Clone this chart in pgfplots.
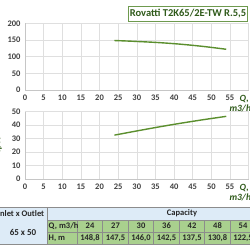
\documentclass[border=0pt]{standalone}
\usepackage{pgfplots}
\pgfplotsset{compat=1.18}
\usepackage{fontspec}
\setmainfont{Carlito}
\definecolor{curve}{HTML}{5B8F2E}
\definecolor{dgreen}{HTML}{2F5A1A}
\definecolor{boxg}{HTML}{6E9A4E}
\definecolor{hblue}{HTML}{DDEBF7}
\definecolor{cgreen}{HTML}{A9D08E}
\definecolor{cell}{HTML}{8C8C8C}
\definecolor{tick}{HTML}{404040}
\pgfplotsset{
  pumpax/.style={
    scale only axis, width=223.6pt,
    xmin=0, xmax=60,
    xtick={0,5,...,60},
    xticklabels={0,5,10,15,20,25,30,35,40,45,50,55,{}},
    axis lines=left,
    axis line style={draw=gray!45, -},
    grid=major,
    major grid style={draw=gray!25, line width=0.5pt},
    major tick length=0pt,
    ticklabel style={font=\fontsize{8.5}{9}\selectfont\bfseries, text=tick},
    /pgf/number format/assume math mode=true,
    xticklabel style={yshift=-1pt},
    yticklabel style={xshift=-1pt},
    clip=false,
  }
}
\begin{document}
\begin{tikzpicture}
\useasboundingbox (0pt,0pt) rectangle (250pt,250pt);
\clip (0pt,0pt) rectangle (250pt,250pt);
\fill[white] (0pt,0pt) rectangle (250pt,250pt);
\coordinate (TOPAX) at (25pt,160pt);
\coordinate (BOTAX) at (25pt,71pt);
% top chart
\begin{axis}[pumpax, at={(TOPAX)}, anchor=south west, height=66.5pt,
  ymin=0, ymax=200, ytick={0,50,...,200}]
\addplot[curve, line width=1.4pt, smooth] coordinates {
(24,148.8) (27,147.5) (30,146.0) (36,142.5) (42,137.5) (48,130.8) (54,122.5)};
\end{axis}
% bottom chart
\begin{axis}[pumpax, at={(BOTAX)}, anchor=south west, height=67.5pt,
  ymin=0, ymax=50, ytick={0,10,...,50}]
\addplot[curve, line width=1.4pt, smooth] coordinates {
(24,32.5) (30,35.6) (36,38.6) (42,41.4) (48,44.0) (54,46.4)};
\end{axis}
\begin{scope}[x=1pt,y=1pt]
% Q labels
\node[font=\fontsize{9.5}{10}\selectfont\bfseries\itshape, text=dgreen, anchor=west] at (236,151) {Q,};
\node[font=\fontsize{9.5}{10}\selectfont\bfseries\itshape, text=dgreen, anchor=west] at (226,141.5) {m3/h};
\node[font=\fontsize{9.5}{10}\selectfont\bfseries\itshape, text=dgreen, anchor=west] at (236,62) {Q,};
\node[font=\fontsize{9.5}{10}\selectfont\bfseries\itshape, text=dgreen, anchor=west] at (226,53) {m3/h};
% left y label (cut)
\node[rotate=90, font=\fontsize{9}{10}\selectfont\bfseries\itshape, text=dgreen] at (-2,105) {η, \%};
% title box
\node[draw=boxg, line width=0.8pt, fill=white, anchor=north west, inner sep=1.5pt,
  minimum height=15pt, font=\fontsize{10.5}{12}\selectfont\bfseries, text=dgreen]
  at (128,244) {Rovatti T2K65/2E-TW R.5,5};
% table
\begin{scope}[font=\fontsize{8.5}{9}\selectfont\bfseries, text=black!85]
\fill[hblue] (-10,30) rectangle (260,43);
\fill[hblue] (-10,6) rectangle (47,30);
\fill[cgreen] (47,6) rectangle (260,30);
\fill[white] (-10,0) rectangle (260,6);
\draw[cell, line width=0.5pt] (-10,43) -- (260,43);
\draw[cell, line width=0.5pt] (47,30) -- (260,30);
\draw[cell, line width=0.5pt] (47,18) -- (260,18);
\draw[cell, line width=0.5pt] (-10,6) -- (260,6);
\draw[cell, line width=0.5pt] (47,6) -- (47,43);
\foreach \x in {77.25,102.75,128.25,153.75,179.25,204.75,230.25} \draw[cell, line width=0.5pt] (\x,6) -- (\x,30);
\node at (21,36.5) {Inlet x Outlet};
\node at (182,36.5) {Capacity};
\node[font=\fontsize{9}{10}\selectfont\bfseries] at (23,18) {65 x 50};
\node[anchor=west, inner sep=1pt] at (47.5,24) {Q, m3/h};
\node[anchor=west, inner sep=1pt] at (47.5,12) {H, m};
\node at (90,24) {24};
\node at (115.5,24) {27};
\node at (141,24) {30};
\node at (166.5,24) {36};
\node at (192,24) {42};
\node at (217.5,24) {48};
\node at (243,24) {54};
\node at (90,12) {148,8};
\node at (115.5,12) {147,5};
\node at (141,12) {146,0};
\node at (166.5,12) {142,5};
\node at (192,12) {137,5};
\node at (217.5,12) {130,8};
\node at (243,12) {122,5};
\end{scope}
\end{scope}
\end{tikzpicture}
\end{document}
